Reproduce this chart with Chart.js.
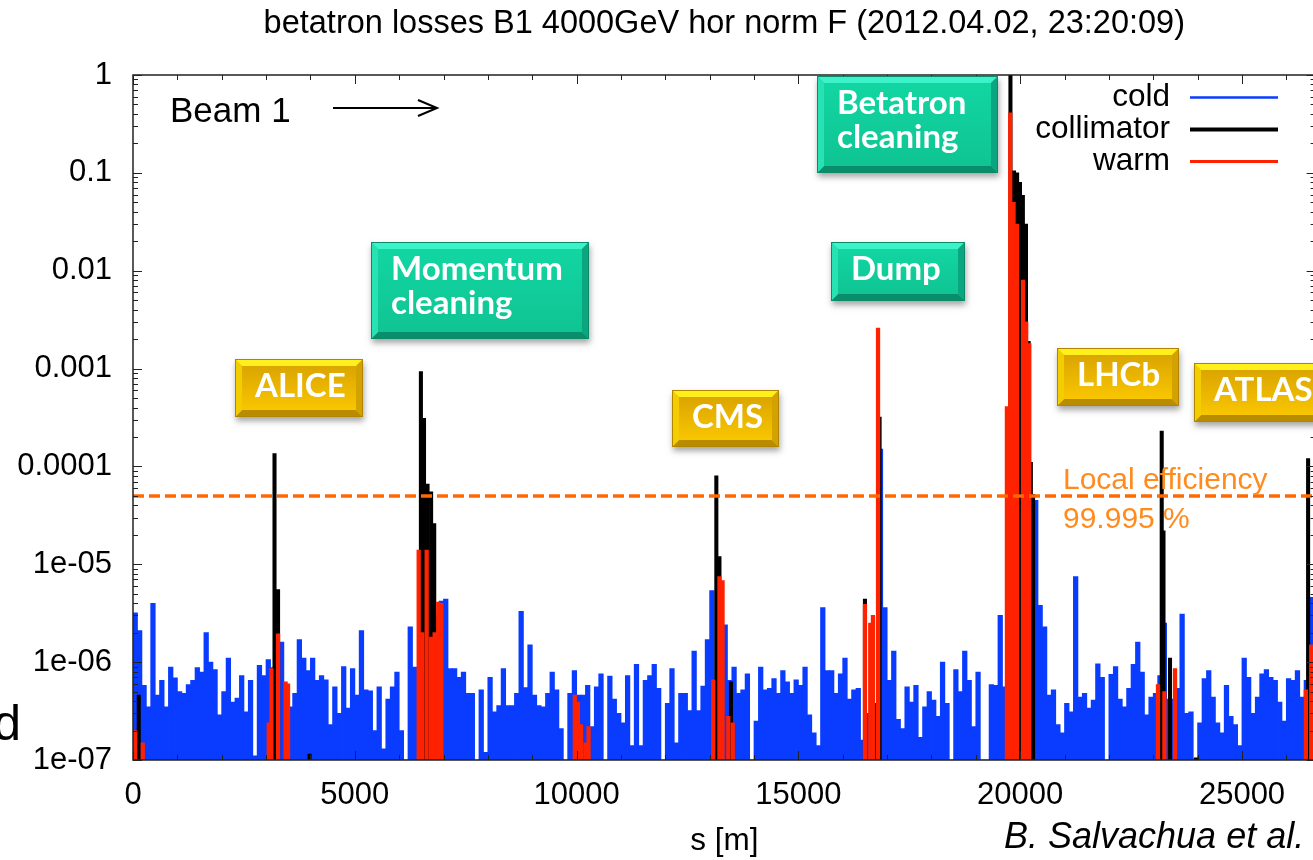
<!DOCTYPE html>
<html>
<head>
<meta charset="utf-8">
<title>betatron losses B1 4000GeV</title>
<script src="https://cdn.jsdelivr.net/npm/chart.js@4.4.1/dist/chart.umd.min.js"></script>
<style>
  html, body { margin: 0; padding: 0; background: #fff; overflow: hidden; }
  canvas { display: block; }
</style>
</head>
<body>
<canvas id="lossChart" width="1318" height="860"></canvas>
<script>
// loss map data (s in metres, normalised loss)
const titleText = 'betatron losses B1 4000GeV hor norm F (2012.04.02, 23:20:09)';
const sMax = 26659;
const coldBin = 100; // cold elements, one bar per 100 m

const coldLoss = [
  3.2e-6, 2.1e-6, 5.8e-7, 3.5e-7, 4.0e-6, 4.6e-7, 6.5e-7, 3.5e-7, 8.9e-7, 6.9e-7,
  5.0e-7, 4.8e-7, 5.9e-7, 6.5e-7, 8.8e-7, 7.9e-7, 2.0e-6, 1.0e-6, 8.4e-7, 2.9e-7,
  5.0e-7, 1.1e-6, 3.9e-7, 4.3e-7, 7.3e-7, 3.1e-7, 6.5e-7, 1.1e-7, 9.3e-7, 7.3e-7,
  1.06e-6, 8.8e-7, 5.0e-7, 1.6e-6, 3.5e-7, 3.5e-7, 4.8e-7, 1.7e-6, 1.1e-6, 8.2e-7,
  1.1e-6, 6.5e-7, 7.3e-7, 6.6e-7, 2.3e-7, 5.6e-7, 3.0e-7, 9.0e-7, 3.4e-7, 8.6e-7,
  4.6e-7, 2.1e-6, 5.2e-7, 5.1e-7, 2.0e-7, 5.6e-7, 1.3e-7, 4.2e-7, 5.6e-7, 7.9e-7,
  2.0e-7, 1.0e-7, 2.3e-6, 8.9e-7, 3.0e-7, 3.0e-7, 3.0e-7, 3.0e-7, 3.0e-7, 4.2e-6,
  4.4e-6, 8.6e-7, 8.6e-7, 7.0e-7, 7.9e-7, 4.8e-7, 4.8e-7, 1.0e-7, 5.2e-7, 1.2e-7,
  7.0e-7, 3.1e-7, 3.6e-7, 8.6e-7, 3.6e-7, 3.6e-7, 4.8e-7, 3.3e-6, 5.5e-7, 1.5e-6,
  4.6e-7, 3.6e-7, 3.5e-7, 4.8e-7, 7.9e-7, 5.2e-7, 2.1e-7, 1.0e-7, 4.8e-7, 8.2e-7,
  4.6e-7, 4.6e-7, 5.8e-7, 2.2e-7, 5.6e-7, 7.6e-7, 1.0e-7, 7.2e-7, 4.2e-7, 3.0e-7,
  2.4e-7, 7.3e-7, 1.4e-7, 9.5e-7, 1.4e-7, 6.5e-7, 7.3e-7, 9.5e-7, 5.4e-7, 1.0e-7,
  3.8e-7, 8.6e-7, 1.5e-7, 4.8e-7, 4.8e-7, 3.2e-7, 1.3e-6, 3.2e-7, 5.7e-7, 1.7e-6,
  5.4e-6, 6.8e-7, 6.5e-7, 2.4e-6, 6.5e-7, 8.9e-7, 4.8e-7, 5.2e-7, 7.6e-7, 1.0e-7,
  2.5e-7, 8.9e-7, 5.2e-7, 5.4e-7, 6.8e-7, 4.8e-7, 8.2e-7, 6.3e-7, 4.8e-7, 6.6e-7,
  5.8e-7, 8.9e-7, 2.9e-7, 1.9e-7, 1.4e-7, 3.6e-6, 8.2e-7, 8.2e-7, 4.8e-7, 7.6e-7,
  1.1e-6, 4.2e-7, 5.2e-7, 5.4e-7, 1.6e-7, 3.0e-7, 3.0e-7, 3.0e-7, 1.5e-4, 3.6e-6,
  6.5e-7, 1.3e-6, 2.6e-7, 2.1e-7, 5.6e-7, 3.9e-7, 5.8e-7, 1.7e-7, 3.5e-7, 5.0e-7,
  4.1e-7, 2.8e-7, 1.0e-6, 3.8e-7, 1.0e-7, 8.4e-7, 5.0e-7, 1.3e-6, 6.5e-7, 2.2e-7,
  7.9e-7, 1.0e-7, 1.0e-7, 5.9e-7, 5.8e-7, 3.0e-6, 5.6e-7, 3.0e-7, 3.0e-7, 3.0e-7,
  3.0e-7, 3.0e-7, 3.0e-7, 4.5e-5, 3.8e-6, 2.3e-6, 4.6e-7, 5.2e-7, 2.3e-7, 1.9e-7,
  3.8e-7, 3.1e-7, 7.5e-6, 4.4e-7, 4.8e-7, 3.4e-7, 4.1e-7, 9.6e-7, 7.0e-7, 1.0e-7,
  7.5e-7, 9.0e-7, 4.2e-7, 3.5e-7, 5.4e-7, 9.5e-7, 1.6e-6, 7.9e-7, 2.9e-7, 4.4e-7,
  4.8e-7, 7.3e-7, 2.5e-6, 4.2e-7, 4.2e-7, 5.4e-7, 3.1e-6, 3.0e-7, 3.1e-7, 1.0e-7,
  2.4e-7, 6.8e-7, 8.2e-7, 4.4e-7, 2.4e-7, 1.9e-7, 5.8e-7, 2.8e-7, 2.3e-7, 1.4e-7,
  1.1e-6, 7.0e-7, 3.0e-7, 4.4e-7, 7.6e-7, 8.4e-7, 7.0e-7, 6.5e-7, 3.9e-7, 2.5e-7,
  6.8e-7, 6.5e-7, 8.2e-7, 4.4e-7, 6.5e-7, 4.6e-6, 4.6e-6
];

const collS = [130, 3190, 3270, 3980, 6490, 6560, 6640, 6720, 6790, 6870,
  13150, 13220, 13480, 16500, 16725, 16830,
  19740, 19780, 19860, 19930, 19995, 20060, 20130, 20190, 20240, 20290,
  23190, 23230, 23377, 23960, 26490];
const collLoss = [4.6e-7, 1.35e-4, 5.5e-6, 1.15e-7, 9.3e-4, 3.1e-4, 6.6e-5, 5.5e-5, 2.6e-5, 3.0e-6,
  8.0e-5, 1.2e-5, 6.3e-7, 4.4e-6, 3.8e-7, 3.2e-4,
  2.0e-5, 1.0, 0.105, 0.1, 0.08, 0.059, 0.03, 1.9e-3, 1.1e-4, 5.2e-5,
  2.3e-4, 2.2e-5, 1.1e-6, 1.05e-7, 1.2e-4];

const warmS = [50, 220, 3060, 3120, 3270, 3440, 3495,
  6440, 6520, 6620, 6720, 6800, 6880, 6950,
  9960, 10030, 10100, 10200, 10270,
  13080, 13220, 13290, 13420, 13520,
  16500, 16620, 16680, 16795,
  19700, 19775, 19850, 19925, 20065, 20135, 20205,
  23106, 23250, 23490, 26440, 26560];
const warmLoss = [2.0e-7, 1.5e-7, 2.4e-7, 8.6e-7, 1.95e-6, 6.3e-7, 6.0e-7,
  1.4e-5, 2.0e-6, 1.4e-5, 1.8e-6, 2.0e-6, 4.1e-6, 4.0e-6,
  4.6e-7, 3.9e-7, 2.3e-7, 1.5e-7, 2.2e-7,
  6.6e-7, 7.5e-6, 6.8e-6, 2.8e-7, 2.4e-7,
  3.9e-6, 2.5e-6, 3.0e-6, 2.6e-3,
  4.1e-4, 0.41, 0.05, 0.03, 8e-3, 3e-3, 1.8e-3,
  5.9e-7, 5.0e-7, 8.6e-7, 5.2e-7, 1.5e-6];

const effLevel = 5e-5; // 99.995 % local efficiency

const xTicks = [0, 5000, 10000, 15000, 20000, 25000];
const yTicks = [1e-7, 1e-6, 1e-5, 1e-4, 1e-3, 1e-2, 0.1, 1];
const yTickLabels = ['1e-07', '1e-06', '1e-05', '0.0001', '0.001', '0.01', '0.1', '1'];

// coloured labels pasted on the slide
const boxes = [
  { lines: ['Betatron', 'cleaning'], kind: 'teal', x: 817, y: 76, w: 181, h: 97 },
  { lines: ['Momentum', 'cleaning'], kind: 'teal', x: 371, y: 242, w: 218, h: 97 },
  { lines: ['Dump'], kind: 'teal', x: 831, y: 242, w: 134, h: 59 },
  { lines: ['ALICE'], kind: 'gold', x: 235, y: 359, w: 128, h: 58 },
  { lines: ['CMS'], kind: 'gold', x: 672, y: 390, w: 107, h: 57 },
  { lines: ['LHCb'], kind: 'gold', x: 1057, y: 348, w: 122, h: 58 },
  { lines: ['ATLAS'], kind: 'gold', x: 1194, y: 363, w: 130, h: 59 }
];

const FONT = '"Liberation Sans", Arial, Helvetica, sans-serif';
Chart.defaults.font.family = FONT;
Chart.defaults.color = '#000';

function toPoints(xs, ys) {
  return xs.map((s, i) => ({ x: s, y: ys[i] }));
}

const coldS = coldLoss.map((v, i) => i * coldBin + coldBin / 2);

const palettes = {
  teal: { face0: '#12d6a2', face1: '#0fc493', top: '#3cf3c9', bottom: '#0a8d6a', left: '#27e3b3', right: '#0ba57f', edge: '#0a8a68' },
  gold: { face0: '#dba500', face1: '#f9c600', top: '#fff01c', bottom: '#b98c00', left: '#f3cd00', right: '#d4a200', edge: '#b08500' }
};

function drawBox(ctx, b) {
  const p = palettes[b.kind];
  const bw = 7;
  const { x, y, w, h } = b;
  ctx.save();
  ctx.shadowColor = 'rgba(0,0,0,0.35)';
  ctx.shadowBlur = 6;
  ctx.shadowOffsetX = 1;
  ctx.shadowOffsetY = 4;
  ctx.fillStyle = p.face1;
  ctx.fillRect(x, y, w, h);
  ctx.restore();

  const quad = (pts, color) => {
    ctx.beginPath();
    ctx.moveTo(pts[0], pts[1]);
    for (let i = 2; i < pts.length; i += 2) ctx.lineTo(pts[i], pts[i + 1]);
    ctx.closePath();
    ctx.fillStyle = color;
    ctx.fill();
  };
  quad([x, y, x + w, y, x + w - bw, y + bw, x + bw, y + bw], p.top);
  quad([x, y + h, x + w, y + h, x + w - bw, y + h - bw, x + bw, y + h - bw], p.bottom);
  quad([x, y, x + bw, y + bw, x + bw, y + h - bw, x, y + h], p.left);
  quad([x + w, y, x + w - bw, y + bw, x + w - bw, y + h - bw, x + w, y + h], p.right);

  const g = ctx.createLinearGradient(0, y + bw, 0, y + h - bw);
  g.addColorStop(0, p.face0);
  g.addColorStop(1, p.face1);
  ctx.fillStyle = g;
  ctx.fillRect(x + bw, y + bw, w - 2 * bw, h - 2 * bw);

  ctx.strokeStyle = p.edge;
  ctx.lineWidth = 1;
  ctx.strokeRect(x + 0.5, y + 0.5, w - 1, h - 1);

  ctx.fillStyle = '#fff';
  ctx.font = 'bold 33px Lato, "Open Sans", sans-serif';
  ctx.textAlign = 'left';
  ctx.textBaseline = 'alphabetic';
  b.lines.forEach((t, i) => ctx.fillText(t, x + 20, y + 38 + i * 34));
}

const decor = {
  id: 'decor',
  afterDatasetsDraw(chart) {
    const { ctx, chartArea: a, scales: { x, y } } = chart;
    ctx.save();
    // gnuplot style frame with inward ticks
    ctx.strokeStyle = '#222';
    ctx.lineWidth = 1.5;
    ctx.strokeRect(a.left, a.top, a.right - a.left, a.bottom - a.top);
    ctx.lineWidth = 1;
    ctx.beginPath();
    for (let e = -7; e <= 0; e++) {
      for (let m = 1; m <= 9; m++) {
        const v = m * Math.pow(10, e);
        if (v > 1.0001) break;
        const py = Math.round(y.getPixelForValue(v)) + 0.5;
        const len = m === 1 ? 9 : 5;
        ctx.moveTo(a.left, py); ctx.lineTo(a.left + len, py);
        ctx.moveTo(a.right, py); ctx.lineTo(a.right - len, py);
      }
    }
    for (let s = 0; s <= sMax; s += 1000) {
      const px = Math.round(x.getPixelForValue(s)) + 0.5;
      const len = s % 5000 === 0 ? 9 : 5;
      ctx.moveTo(px, a.top); ctx.lineTo(px, a.top + len);
      ctx.moveTo(px, a.bottom); ctx.lineTo(px, a.bottom - len);
    }
    ctx.stroke();
    ctx.restore();
  },
  afterDraw(chart) {
    const { ctx, scales: { y } } = chart;
    ctx.save();

    // legend: text then line sample, gnuplot style
    const lw = [2.5, 4, 3];
    ctx.font = '31.5px ' + FONT;
    ctx.textAlign = 'right';
    ctx.textBaseline = 'middle';
    chart.data.datasets.slice(0, 3).forEach((d, i) => {
      const ly = 97 + i * 32;
      ctx.fillStyle = '#000';
      ctx.fillText(d.label, 1170, ly);
      ctx.strokeStyle = d.backgroundColor;
      ctx.lineWidth = lw[i];
      ctx.beginPath();
      ctx.moveTo(1190, ly + 0.5);
      ctx.lineTo(1278, ly + 0.5);
      ctx.stroke();
    });

    // beam direction
    ctx.fillStyle = '#000';
    ctx.textAlign = 'left';
    ctx.textBaseline = 'alphabetic';
    ctx.font = '35px ' + FONT;
    ctx.fillText('Beam 1', 170, 122);
    ctx.strokeStyle = '#000';
    ctx.lineWidth = 2;
    ctx.beginPath();
    ctx.moveTo(333, 108); ctx.lineTo(437, 108);
    ctx.moveTo(418, 100); ctx.lineTo(437, 108); ctx.lineTo(418, 116);
    ctx.stroke();

    // efficiency label
    const ey = y.getPixelForValue(effLevel);
    ctx.fillStyle = '#ff8a1e';
    ctx.font = '30px ' + FONT;
    ctx.fillText('Local efficiency', 1063, ey - 7);
    ctx.fillText('99.995 %', 1063, ey + 32);

    // slide remnants
    ctx.font = 'italic 36px ' + FONT;
    ctx.fillStyle = '#000';
    ctx.fillText('B. Salvachua et al.', 1004, 848);
    ctx.font = '50px ' + FONT;
    ctx.textAlign = 'right';
    ctx.fillText('d', 21, 740);

    boxes.forEach(b => drawBox(ctx, b));
    ctx.restore();
  }
};

new Chart(document.getElementById('lossChart'), {
  type: 'bar',
  data: {
    datasets: [
      { label: 'cold', data: toPoints(coldS, coldLoss), backgroundColor: '#0a3cff',
        barThickness: 4.6, order: 3, stack: 'all' },
      { label: 'collimator', data: toPoints(collS, collLoss), backgroundColor: '#000000',
        barThickness: 3.4, order: 2, stack: 'all' },
      { label: 'warm', data: toPoints(warmS, warmLoss), backgroundColor: '#ff2200',
        barThickness: 3.6, order: 1, stack: 'all' },
      { type: 'line', label: 'efficiency', data: [{ x: 0, y: effLevel }, { x: sMax, y: effLevel }],
        borderColor: '#ff6a00', borderWidth: 3.5, borderDash: [11, 5], pointRadius: 0, order: 0 }
    ]
  },
  options: {
    responsive: false,
    animation: false,
    layout: { padding: { left: 0, right: 2.4, top: 0, bottom: 0 } },
    plugins: {
      legend: { display: false },
      tooltip: { enabled: false },
      title: {
        display: true, fullSize: false, text: titleText, color: '#000',
        font: { size: 32.5, weight: 'normal' }, padding: { top: 5, bottom: 31 }
      }
    },
    scales: {
      x: {
        type: 'linear', min: 0, max: sMax, offset: false, stacked: true,
        grid: { display: false, drawTicks: false, offset: false },
        border: { display: false },
        afterBuildTicks: s => { s.ticks = xTicks.map(v => ({ value: v })); },
        afterFit: s => { s.height = 100; },
        ticks: { font: { size: 31 }, padding: 17, maxRotation: 0, autoSkip: false, callback: v => String(v) },
        title: { display: true, text: 's [m]', font: { size: 31.5 }, padding: { top: 0, bottom: 0 } }
      },
      y: {
        type: 'logarithmic', min: 1e-7, max: 1, stacked: false,
        grid: { display: false, drawTicks: false },
        border: { display: false },
        afterBuildTicks: s => { s.ticks = yTicks.map(v => ({ value: v })); },
        afterFit: s => { s.width = 133; },
        ticks: { font: { size: 31 }, padding: 21, autoSkip: false, callback: (v, i) => yTickLabels[i] }
      }
    }
  },
  plugins: [decor]
});
</script>
</body>
</html>
